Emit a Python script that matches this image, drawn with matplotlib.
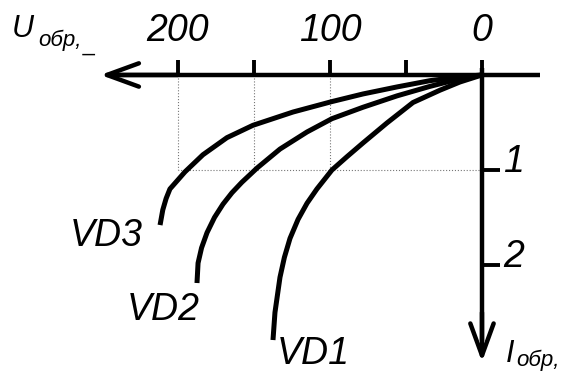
import matplotlib.pyplot as plt

# reverse branch of diode I-V curves (U in volts, I in mA)
vd1_u = [0, 14.5, 27.6, 45.4, 62.5, 78.3, 88.8, 98.7, 108.6, 115.1, 121, 126.3, 130, 132.9, 136.2, 137.5]
vd1_i = [0, 0.074, 0.16, 0.29, 0.505, 0.716, 0.86, 1.0, 1.2, 1.35, 1.52, 1.72, 1.92, 2.13, 2.5, 2.79]
vd2_u = [0, 14.5, 34.2, 55.9, 78.3, 98.7, 115.1, 132.9, 148, 158, 164.5, 170.4, 176, 180.9, 184.5, 186.8, 187.5]
vd2_i = [0, 0.04, 0.12, 0.22, 0.34, 0.46, 0.6, 0.78, 0.98, 1.13, 1.24, 1.36, 1.5, 1.66, 1.82, 1.98, 2.19]
vd3_u = [0, 14.5, 34.2, 55.9, 78.3, 98.7, 124.3, 150.7, 167.8, 183.6, 195.4, 205.3, 207.8, 210, 211.8]
vd3_i = [0, 0.02, 0.06, 0.126, 0.2, 0.28, 0.39, 0.53, 0.66, 0.84, 1.02, 1.2, 1.3, 1.42, 1.58]

u_ticks = [0, 50, 100, 150, 200]
u_labels = {0: '0', 100: '100', 200: '200'}
i_ticks = [1, 2]
guide_u = [100, 150, 200]

fig = plt.figure(figsize=(5.63, 3.71), dpi=100)
ax = fig.add_axes([0, 0, 1, 1])
ax.set_xlim(317.1, -53.3)
ax.set_ylim(3.116, -0.789)
ax.axis('off')

font = 'Liberation Sans'
blk = 'black'
txt = dict(style='italic', family=font, color=blk)

# dotted guides
for u in guide_u:
    ax.plot([u, u], [0, 1], ':', color='#777777', lw=0.8)
ax.plot([0, 200], [1, 1], ':', color='#777777', lw=0.8)

# axes with open arrow heads
arrow = dict(arrowstyle='->,head_length=1.15,head_width=0.42', lw=3.2, color=blk,
             mutation_scale=20, shrinkA=0, shrinkB=0)
ax.plot([-38, 240], [0, 0], color=blk, lw=3.2, solid_capstyle='butt')
ax.annotate('', xy=(251, 0), xytext=(200, 0), arrowprops=arrow)
ax.plot([0, 0], [-0.074, 2.8], color=blk, lw=3.2, solid_capstyle='butt')
ax.annotate('', xy=(0, 3.02), xytext=(0, 2.5), arrowprops=arrow)

for u in u_ticks:
    ax.plot([u, u], [-0.158, 0], color=blk, lw=2.8, solid_capstyle='butt')
    if u in u_labels:
        ax.text(u, -0.465, u_labels[u], fontsize=27, ha='center', va='center', **txt)
for i in i_ticks:
    ax.plot([0, -12], [i, i], color=blk, lw=2.8, solid_capstyle='butt')
    ax.text(-21, i - 0.08, str(i), fontsize=27, ha='center', va='center', **txt)

# curves
for u, i in [(vd1_u, vd1_i), (vd2_u, vd2_i), (vd3_u, vd3_i)]:
    ax.plot(u, i, color=blk, lw=3.6, solid_capstyle='butt', solid_joinstyle='round')

ax.text(247, 1.69, 'VD3', fontsize=27, ha='center', va='center', **txt)
ax.text(210, 2.47, 'VD2', fontsize=27, ha='center', va='center', **txt)
ax.text(111, 2.94, 'VD1', fontsize=27, ha='center', va='center', **txt)

# axis titles
fig.text(12 / 563, 1 - 37 / 371, 'U', fontsize=22, va='baseline', **txt)
fig.text(38 / 563, 1 - 46 / 371, 'обр,', fontsize=16, va='baseline', **txt)
fig.text(84 / 563, 1 - 52 / 371, '_', fontsize=16, va='baseline', **txt)
fig.text(506 / 563, 1 - 362 / 371, 'I', fontsize=22, va='baseline', **txt)
fig.text(516 / 563, 1 - 366 / 371, 'обр,', fontsize=16, va='baseline', **txt)

fig.savefig('out.png', dpi=100)
